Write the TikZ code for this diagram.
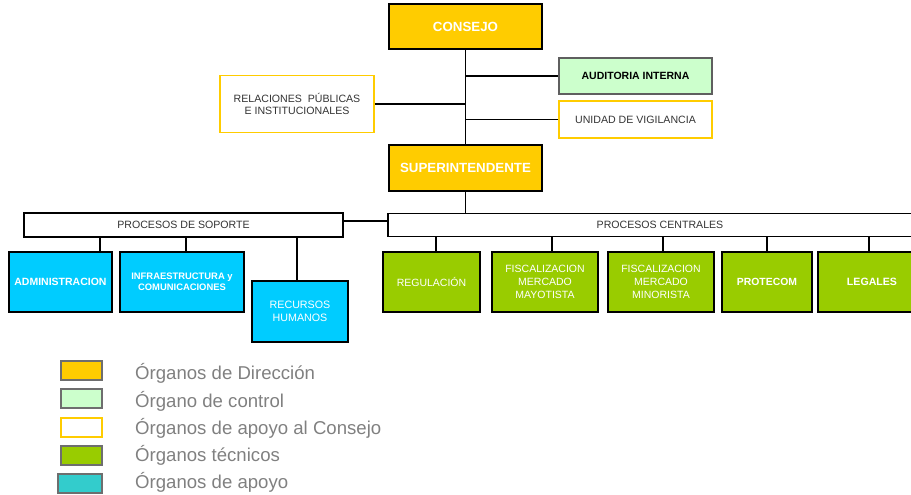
\documentclass[tikz,border=0pt]{standalone}
\usepackage{fontspec}
\setmainfont{Liberation Sans}
\newcommand{\fsize}[2]{\fontsize{#1}{#2}\selectfont}
\tikzset{
    orgbox/.style={draw=black, rectangle, align=center, inner sep=1pt, line width=1.6pt},
    dirbox/.style={orgbox, fill=dirColour, text=white, font=\bfseries\fsize{13.3}{15}},
    ctrlbox/.style={orgbox, draw=ctrlBorder, fill=ctrlColour, text=black, font=\bfseries\fsize{10.5}{12}},
    apoyobox/.style={orgbox, draw=dirColour, fill=white, text=darkText, font=\fsize{10.6}{12}},
    procbox/.style={orgbox, fill=white, text=darkText, font=\fsize{10.6}{12}},
    tecbox/.style={orgbox, fill=tecColour, text=white, font=\fsize{10.5}{13}},
    supbox/.style={orgbox, fill=supColour, text=white, font=\fsize{10.7}{13}},
    legbox/.style={rectangle, draw=legBorder, line width=2pt, minimum width=41pt, minimum height=19pt, inner sep=0pt},
    legtext/.style={anchor=west, text=legText, font=\fsize{18.6}{20}, inner sep=0pt},
    link/.style={line width=1.4pt, draw=black}
}
\begin{document}
\begin{tikzpicture}[x=1pt, y=-1pt]
    \definecolor{dirColour}{HTML}{FFCC00}
    \definecolor{ctrlColour}{HTML}{CCFFCC}
    \definecolor{ctrlBorder}{HTML}{5F5F5F}
    \definecolor{tecColour}{HTML}{99CC00}
    \definecolor{supColour}{HTML}{00CCFF}
    \definecolor{apoyoColour}{HTML}{33CCCC}
    \definecolor{darkText}{HTML}{333333}
    \definecolor{legBorder}{HTML}{6E6E6E}
    \definecolor{legText}{HTML}{808080}

    \def\legX{135}

    \clip (0,0) rectangle (911,495);

    % Direction and its support
    \node[dirbox, minimum width=153pt, minimum height=45pt] (consejo) at (465.5,26.5) {CONSEJO};
    \node[ctrlbox, minimum width=153pt, minimum height=36pt] (auditoria) at (635.5,76) {AUDITORIA INTERNA};
    \node[apoyobox, minimum width=154pt, minimum height=57pt] (relaciones) at (297,104) {RELACIONES~~PÚBLICAS\\E INSTITUCIONALES};
    \node[apoyobox, minimum width=153pt, minimum height=37pt] (vigilancia) at (635.5,119.5) {UNIDAD DE VIGILANCIA};
    \node[dirbox, minimum width=153pt, minimum height=46pt] (superint) at (465.5,168) {SUPERINTENDENTE};

    \draw[link] (consejo) -- (superint);
    \draw[link] (auditoria.west) -- (auditoria.west -| consejo.south);
    \draw[link] (vigilancia.west) -- (vigilancia.west -| consejo.south);
    \draw[link] (relaciones.east) -- (relaciones.east -| consejo.south);

    % Process groups
    \node[procbox, minimum width=319pt, minimum height=24pt] (soporte) at (183.5,225) {PROCESOS DE SOPORTE};
    \node[procbox, minimum width=544pt, minimum height=23pt] (centrales) at (660,225) {PROCESOS CENTRALES};

    \draw[link] (superint.south) -- (superint.south |- centrales.north);
    \draw[link] ([yshift=4pt]soporte.east) -- ([yshift=4pt]centrales.west);

    % Support units
    \node[supbox, minimum width=103pt, minimum height=60pt, font=\bfseries\fsize{10.5}{12}] (admin) at (60.5,282) {ADMINISTRACION};
    \node[supbox, minimum width=124pt, minimum height=60pt, font=\bfseries\fsize{9.4}{10.7}] (infra) at (182,282) {INFRAESTRUCTURA y\\COMUNICACIONES};
    \node[supbox, minimum width=96pt, minimum height=61pt] (rrhh) at (300,311.5) {RECURSOS\\HUMANOS};

    \foreach \n/\dx in {admin/39.5, infra/4, rrhh/-3}
        \draw[link] ([xshift=\dx pt]\n.north) -- ([xshift=\dx pt]\n.north |- soporte.south);

    % Technical units
    \node[tecbox, minimum width=97pt, minimum height=60pt] (regulacion) at (431.5,282) {REGULACIÓN};
    \node[tecbox, minimum width=106pt, minimum height=60pt] (mayorista) at (545,282) {FISCALIZACION\\MERCADO\\MAYOTISTA};
    \node[tecbox, minimum width=106pt, minimum height=60pt] (minorista) at (661,282) {FISCALIZACION\\MERCADO\\MINORISTA};
    \node[tecbox, minimum width=90pt, minimum height=60pt, font=\bfseries\fsize{10.4}{12}] (protecom) at (767,282) {PROTECOM};
    \node[tecbox, minimum width=108pt, minimum height=60pt, font=\bfseries\fsize{10.6}{12}] (legales) at (872,282) {LEGALES};

    \foreach \n/\dx in {regulacion/4.5, mayorista/7, minorista/2, protecom/0, legales/-3}
        \draw[link] ([xshift=\dx pt]\n.north) -- ([xshift=\dx pt]\n.north |- centrales.south);

    % Legend
    \node[legbox, fill=dirColour] (legDir) at (81.5,370.5) {};
    \node[legbox, fill=ctrlColour] (legCtrl) at (81.5,398.5) {};
    \node[legbox, fill=white, draw=dirColour] (legApoyoC) at (81.5,427.5) {};
    \node[legbox, fill=tecColour] (legTec) at (81.5,455.5) {};
    \node[legbox, fill=apoyoColour, minimum width=44pt] (legApoyo) at (80,483.5) {};

    \node[legtext] at (\legX,373) {Órganos de Dirección};
    \node[legtext] at (\legX,401) {Órgano de control};
    \node[legtext] at (\legX,428) {Órganos de apoyo al Consejo};
    \node[legtext] at (\legX,455) {Órganos técnicos};
    \node[legtext] at (\legX,482) {Órganos de apoyo};

\end{tikzpicture}
\end{document}
